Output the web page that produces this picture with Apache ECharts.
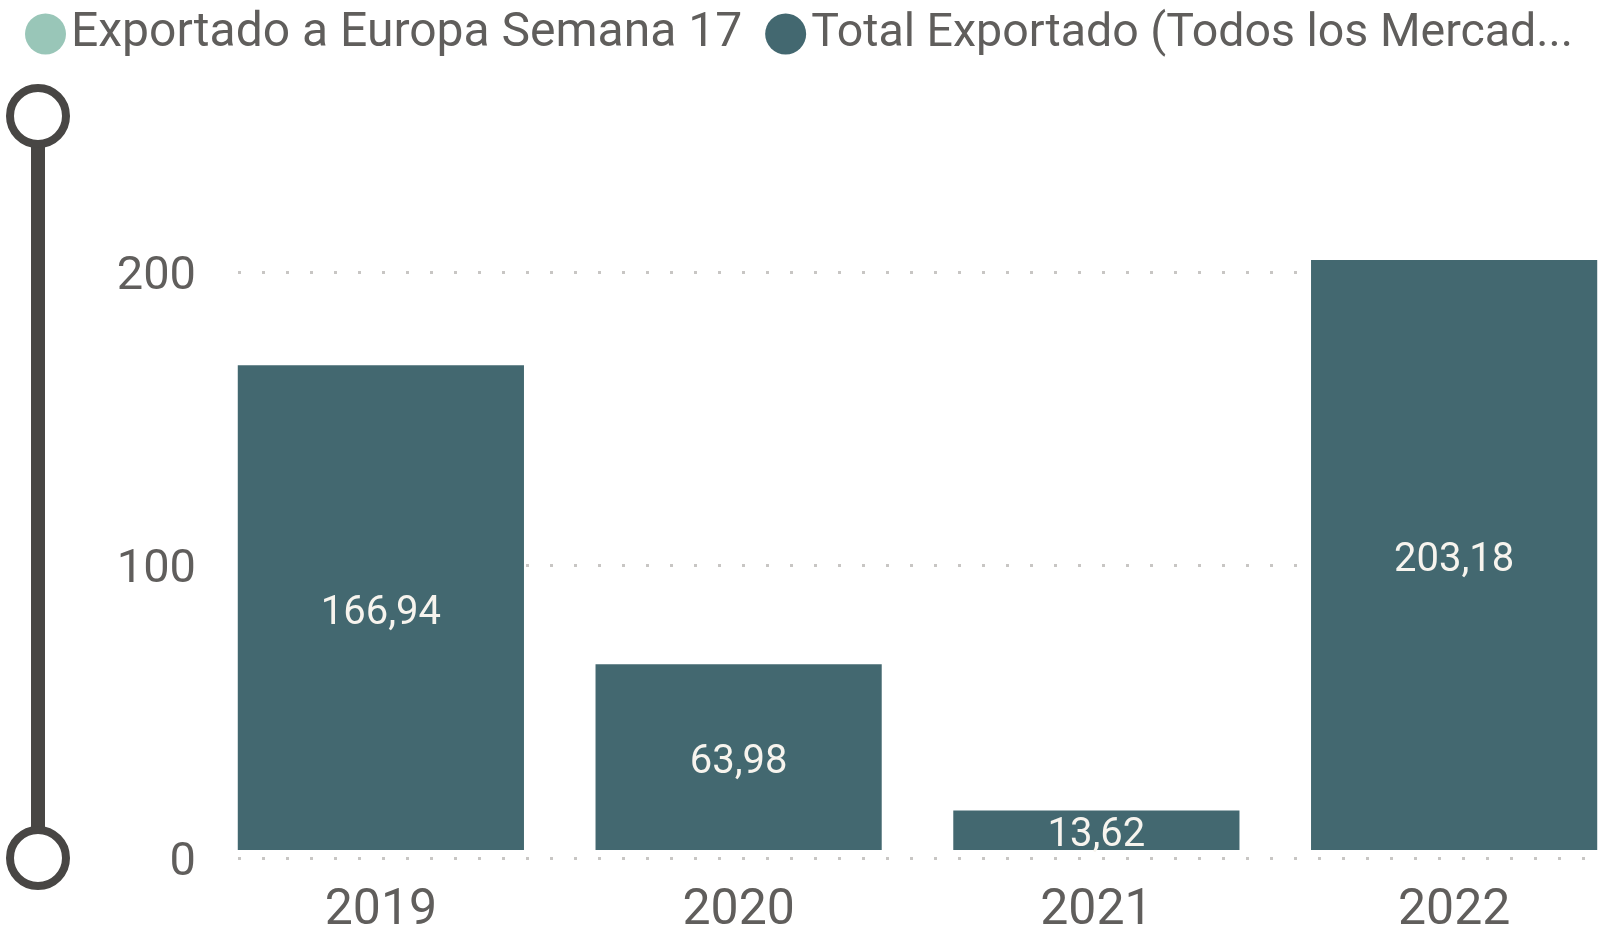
<!DOCTYPE html>
<html>
<head>
<meta charset="utf-8">
<script src="https://cdn.jsdelivr.net/npm/echarts@6/dist/echarts.min.js"></script>
<style>
    html, body {
        margin: 0;
        padding: 0;
        background: #fff;
        overflow: hidden;
    }
    /* el área de dibujo sigue más allá de los bordes, como en el original */
    #chart {
        position: absolute;
        left: 0;
        top: -40px;
        width: 1633px;
        height: 976px;
    }
</style>
</head>
<body>
<div id="chart"></div>
<script>
// datos
const years = ['2019', '2020', '2021', '2022'];
const europaSemana17 = [null, null, null, null];
const totalExportado = [166.94, 63.98, 13.62, 203.18];
const yTicks = [0, 100, 200];

const textGray = '#605e5c';
const fontFam = 'Roboto, sans-serif';
// formato con coma decimal
const fmt = v => v.toFixed(2).replace('.', ',');

const chart = echarts.init(document.getElementById('chart'));

const options = {
    animation: false,
    textStyle: { fontFamily: fontFam },
    legend: {
        left: 20,
        top: 45,
        icon: 'circle',
        itemWidth: 41,
        itemHeight: 41,
        itemGap: 23,
        textStyle: {
            fontSize: 48,
            color: textGray,
            width: 770,
            overflow: 'truncate',
            ellipsis: '...',
        },
        data: [
            { name: 'Exportado a Europa Semana 17' },
            { name: 'Total Exportado (Todos los Mercados)', textStyle: { fontSize: 46.5 } },
        ],
    },
    // grid 0: eje y y líneas punteadas, grid 1: barras
    grid: [
        { left: 238, right: 0, top: 19, bottom: 78 },
        { left: 202, right: 0, top: 19, bottom: 78 },
    ],
    xAxis: [
        {
            gridIndex: 0,
            type: 'category',
            data: years,
            show: false,
        },
        {
            gridIndex: 1,
            type: 'category',
            data: years,
            axisLine: { show: false },
            axisTick: { show: false },
            axisLabel: {
                fontSize: 50,
                color: textGray,
                margin: 36,
                fontFamily: fontFam,
            },
        },
    ],
    yAxis: [
        {
            gridIndex: 0,
            type: 'value',
            min: 0,
            max: 300,
            interval: 100,
            axisLine: { show: false },
            axisTick: { show: false },
            axisLabel: {
                margin: 42,
                formatter: v => (yTicks.includes(v) ? '{v|' + v + '}' : ''),
                rich: {
                    v: {
                        fontSize: 47,
                        color: textGray,
                        fontFamily: fontFam,
                        padding: [10, 0, 0, 0],
                    },
                },
            },
            splitLine: {
                show: true,
                lineStyle: {
                    color: '#c8c6c4',
                    width: 3,
                    type: [3, 21],
                },
            },
        },
        {
            gridIndex: 1,
            type: 'value',
            min: 0,
            max: 300,
            show: false,
            splitLine: { show: false },
        },
    ],
    dataZoom: [
        {
            type: 'slider',
            yAxisIndex: [0, 1],
            start: 0,
            end: 100,
            left: 27,
            width: 14,
            top: 155,
            bottom: 77,
            backgroundColor: '#484644',
            fillerColor: '#484644',
            borderColor: 'transparent',
            showDetail: false,
            showDataShadow: false,
            moveHandleSize: 0,
            brushSelect: false,
            handleIcon: 'circle',
            handleSize: 56,
            handleStyle: {
                color: '#fff',
                borderColor: '#484644',
                borderWidth: 8,
            },
            emphasis: {
                handleStyle: { color: '#fff', borderColor: '#484644', borderWidth: 8 },
            },
        },
    ],
    series: [
        {
            name: 'Exportado a Europa Semana 17',
            type: 'bar',
            xAxisIndex: 1,
            yAxisIndex: 1,
            stack: 'total',
            barWidth: '80%',
            itemStyle: { color: '#99c6b8' },
            data: europaSemana17,
        },
        {
            name: 'Total Exportado (Todos los Mercados)',
            type: 'bar',
            xAxisIndex: 1,
            yAxisIndex: 1,
            stack: 'total',
            barWidth: '80%',
            itemStyle: { color: '#436870' },
            label: {
                show: true,
                position: 'inside',
                offset: [0, 6],
                fontSize: 40,
                color: '#f7f4ee',
                fontFamily: fontFam,
                formatter: p => fmt(p.value),
            },
            data: totalExportado,
        },
    ],
};

chart.setOption(options);
</script>
</body>
</html>
